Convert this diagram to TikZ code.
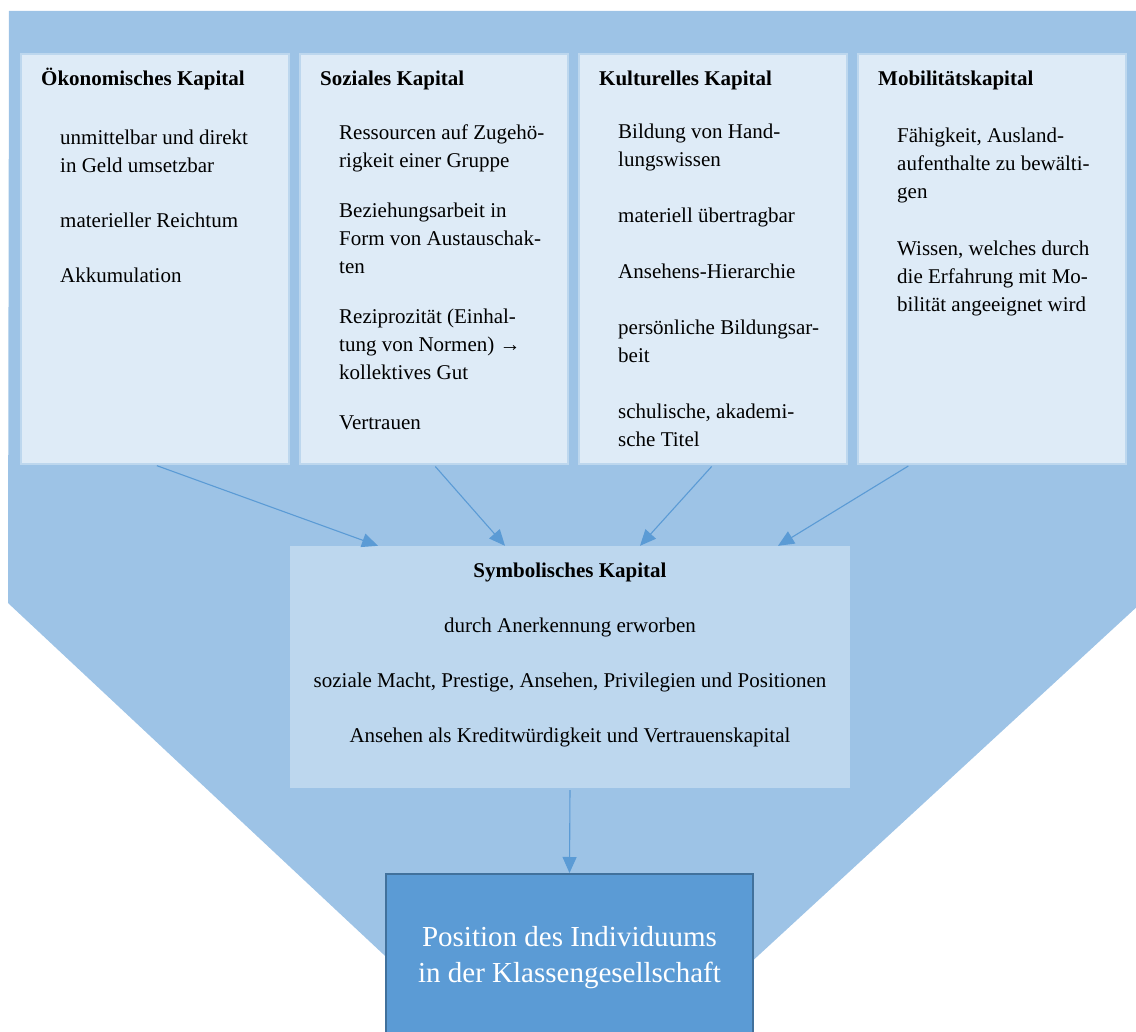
\documentclass[tikz,border=0pt]{standalone}
\usepackage{fontspec}
\setmainfont{Liberation Serif}
\usetikzlibrary{positioning,arrows.meta}

\definecolor{bgblue}{HTML}{9DC3E6}
\definecolor{paleblue}{HTML}{DEEBF7}
\definecolor{lightblue}{HTML}{BDD7EE}
\definecolor{midblue}{HTML}{5B9BD5}
\definecolor{darkblue}{HTML}{41719C}

\begin{document}
\begin{tikzpicture}[x=1pt, y=-1pt, node distance=9pt,
    every node/.style={font=\fontsize{21}{28}\selectfont},
    capbox/.style={draw=lightblue, line width=2pt, fill=paleblue, minimum width=268pt, minimum height=410pt, inner sep=0pt},
    captitle/.style={anchor=base west, inner sep=0pt, font=\fontsize{21}{28}\selectfont\bfseries},
    capitem/.style={anchor=north west, yshift=19.6pt, inner sep=0pt, align=left},
    symbox/.style={fill=lightblue, minimum width=560pt, minimum height=242pt, inner sep=0pt},
    posbox/.style={draw=darkblue, line width=2pt, fill=midblue, text=white, minimum width=367pt, minimum height=168pt, align=center, font=\fontsize{29}{36}\selectfont},
    flow/.style={-{Triangle[length=16pt,width=14pt]}, draw=midblue, line width=1.1pt, shorten <=2pt}]
    \useasboundingbox (0,0) rectangle (1136,1032);
    \clip (0,0) rectangle (1136,1032);
    \fill[bgblue] (9,11) -- (1140,11) -- (1140,604) -- (570,1129) -- (8,603) -- cycle;

    \node[capbox] (oek) at (155,259) {};
    \node[capbox, right=of oek] (soz) {};
    \node[capbox, right=of soz] (kul) {};
    \node[capbox, right=of kul] (mob) {};

    \node[captitle] (oekt) at ([xshift=21pt, yshift=-33pt]oek.north west) {Ökonomisches Kapital};
    \node[captitle] (sozt) at ([xshift=21pt, yshift=-33pt]soz.north west) {Soziales Kapital};
    \node[captitle] (kult) at ([xshift=21pt, yshift=-33pt]kul.north west) {Kulturelles Kapital};
    \node[captitle] (mobt) at ([xshift=21pt, yshift=-33pt]mob.north west) {Mobilitätskapital};

    \node[capitem] (oeki) at ([xshift=40pt, yshift=-91pt]oek.north west)
      {\strut unmittelbar und direkt\\in Geld umsetzbar\\[27pt]materieller Reichtum\\[27pt]Akkumulation};
    \node[capitem] (sozi) at ([xshift=40pt, yshift=-86pt]soz.north west)
      {\strut Ressourcen auf Zugehö-\\rigkeit einer Gruppe\\[22pt]Beziehungsarbeit in\\Form von Austauschak-\\ten\\[22pt]%
       Reziprozität (Einhal-\\tung von Normen) →\\kollektives Gut\\[22pt]Vertrauen};
    \node[capitem] (kuli) at ([xshift=40pt, yshift=-85pt]kul.north west)
      {\strut Bildung von Hand-\\lungswissen\\[28pt]materiell übertragbar\\[28pt]Ansehens-Hierarchie\\[28pt]%
       persönliche Bildungsar-\\beit\\[28pt]schulische, akademi-\\sche Titel};
    \node[capitem] (mobi) at ([xshift=40pt, yshift=-89pt]mob.north west)
      {\strut Fähigkeit, Ausland-\\aufenthalte zu bewälti-\\gen\\[29pt]Wissen, welches durch\\die Erfahrung mit Mo-\\bilität angeeignet wird};

    \node[symbox] (sym) at (570,667) {};
    \node[anchor=north, yshift=19.6pt, inner sep=0pt, align=center] (symt) at ([yshift=-31pt]sym.north)
      {\strut\textbf{Symbolisches Kapital}\\[27pt]durch Anerkennung erworben\\[27pt]%
       soziale Macht, Prestige, Ansehen, Privilegien und Positionen\\[27pt]%
       Ansehen als Kreditwürdigkeit und Vertrauenskapital};

    \node[posbox] (pos) at (569.5,958) {Position des Individuums\\in der Klassengesellschaft};

    \draw[flow] (oek.south) -- ([xshift=-192pt]sym.north);
    \draw[flow] (soz.south) -- ([xshift=-65pt]sym.north);
    \draw[flow] (kul.south) -- ([xshift=70pt]sym.north);
    \draw[flow] ([xshift=-82pt]mob.south) -- ([xshift=208pt]sym.north);
    \draw[flow] (sym.south) -- (pos.north);
\end{tikzpicture}
\end{document}
